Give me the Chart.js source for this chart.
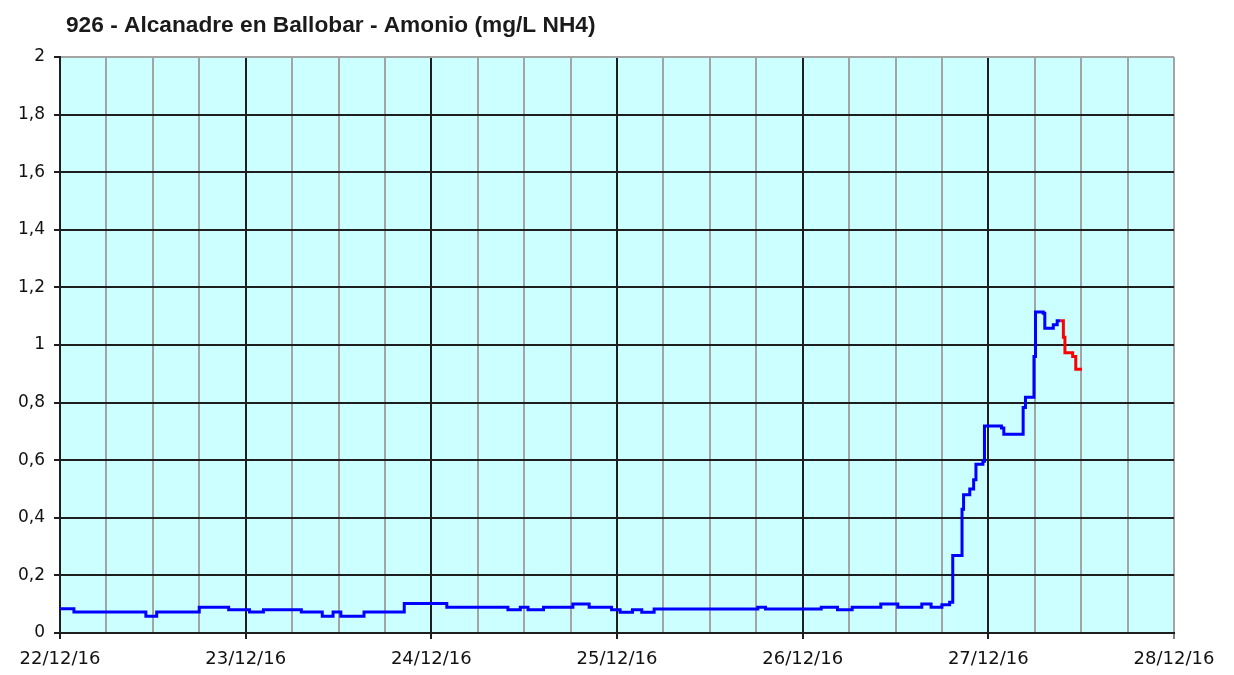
<!DOCTYPE html>
<html>
<head>
<meta charset="utf-8">
<script src="https://cdn.jsdelivr.net/npm/chart.js@4"></script>
<style>
  html, body { margin: 0; padding: 0; background: #fff; }
  #wrap { width: 1234px; height: 675px; }
</style>
</head>
<body>
<div id="wrap"><canvas id="c" width="1234" height="675"></canvas></div>
<script>
const chartTitle = '926 - Alcanadre en Ballobar - Amonio (mg/L NH4)';
const dayLabels = ['22/12/16', '23/12/16', '24/12/16', '25/12/16', '26/12/16', '27/12/16', '28/12/16'];
const yTickLabels = ['0', '0,2', '0,4', '0,6', '0,8', '1', '1,2', '1,4', '1,6', '1,8', '2'];

// hours since 22/12/16 00:00, value starts at that hour
const blueHours = [0, 1.8, 11.1, 12.5, 18, 21.8, 24.5, 26.3, 31.2, 33.9, 35.3, 36.3, 39.3, 44.5,
  50, 57.9, 59.5, 60.5, 62.5, 66.3, 68.4, 71.3, 72.4, 74, 75.2, 76.8, 90.2, 91.2,
  98.4, 100.5, 102.4, 106.1, 108.3, 111.4, 112.6, 114, 115, 115.4, 116.6, 116.8, 117.6,
  118.1, 118.4, 119.3, 119.5, 121.7, 122, 124.5, 124.8, 125.9, 126.1, 127.1, 127.3,
  128.4, 128.9, 129.3];
const blueValues = [0.084, 0.073, 0.058, 0.073, 0.089, 0.081, 0.073, 0.081, 0.073, 0.058, 0.073, 0.058, 0.073, 0.102,
  0.089, 0.081, 0.089, 0.081, 0.089, 0.101, 0.089, 0.081, 0.072, 0.081, 0.072, 0.083, 0.089, 0.083,
  0.089, 0.081, 0.089, 0.101, 0.089, 0.101, 0.089, 0.098, 0.107, 0.269, 0.43, 0.48, 0.50,
  0.532, 0.586, 0.596, 0.719, 0.712, 0.69, 0.783, 0.819, 0.96, 1.115, 1.11, 1.058,
  1.07, 1.084, 1.084];
const redHours = [129.3, 129.7, 129.9, 130.9, 131.3, 132.1];
const redValues = [1.084, 1.027, 0.973, 0.96, 0.916, 0.916];

const toPts = (xs, ys) => xs.map((x, i) => ({ x, y: ys[i] }));
const GRAY = '#a4a4a4', DARK = '#1e1e1e';

const bgPlugin = {
  id: 'bg',
  beforeDraw(chart) {
    const { ctx, chartArea: a } = chart;
    ctx.save();
    ctx.fillStyle = '#fff';
    ctx.fillRect(0, 0, chart.width, chart.height);
    ctx.fillStyle = '#ccffff';
    ctx.fillRect(a.left, a.top, a.right - a.left, a.bottom - a.top);
    ctx.restore();
  },
  afterDraw(chart) {
    const ctx = chart.ctx;
    ctx.save();
    ctx.fillStyle = '#1a1a1a';
    ctx.font = 'bold 22.7px "Liberation Sans", Arial, sans-serif';
    ctx.textBaseline = 'alphabetic';
    ctx.fillText(chartTitle, 66, 32);
    ctx.restore();
  }
};

new Chart(document.getElementById('c'), {
  type: 'line',
  data: {
    datasets: [
      { data: toPts(blueHours, blueValues), borderColor: '#0000ff', borderWidth: 3, stepped: 'before', pointRadius: 0, fill: false },
      { data: toPts(redHours, redValues), borderColor: '#ff0000', borderWidth: 3, stepped: 'before', pointRadius: 0, fill: false }
    ]
  },
  options: {
    responsive: false,
    animation: false,
    layout: { padding: { top: 57, right: 60, left: 0, bottom: 0 } },
    plugins: { legend: { display: false }, title: { display: false }, tooltip: { enabled: false } },
    scales: {
      x: {
        type: 'linear', min: 0, max: 144,
        afterFit: (s) => { s.height = 42; },
        afterBuildTicks: (s) => { s.ticks = []; for (let h = 0; h <= 144; h += 6) s.ticks.push({ value: h }); },
        ticks: {
          autoSkip: false, maxRotation: 0, padding: 10,
          color: '#111', font: { family: '"DejaVu Sans", Verdana, sans-serif', size: 18 },
          callback: (v) => (v % 24 === 0 ? dayLabels[v / 24] : '')
        },
        grid: {
          color: (c) => (c.tick && c.tick.value % 24 === 0 && c.tick.value !== 144 ? DARK : GRAY),
          tickColor: (c) => (c.tick && c.tick.value % 24 === 0 ? (c.tick.value === 144 ? '#808080' : DARK) : 'rgba(0,0,0,0)'),
          tickLength: 6, lineWidth: 2
        },
        border: { color: DARK, width: 2 }
      },
      y: {
        min: 0, max: 2,
        afterFit: (s) => { s.width = 60; },
        afterBuildTicks: (s) => { s.ticks = yTickLabels.map((_, i) => ({ value: i * 0.2 })); },
        ticks: {
          padding: 9, color: '#111', font: { family: '"DejaVu Sans", Verdana, sans-serif', size: 17 },
          callback: (v, i) => yTickLabels[i]
        },
        grid: {
          color: (c) => (c.index === yTickLabels.length - 1 ? GRAY : DARK),
          tickColor: DARK, tickLength: 6, lineWidth: 2
        },
        border: { color: DARK, width: 2 }
      }
    }
  },
  plugins: [bgPlugin]
});
</script>
</body>
</html>
